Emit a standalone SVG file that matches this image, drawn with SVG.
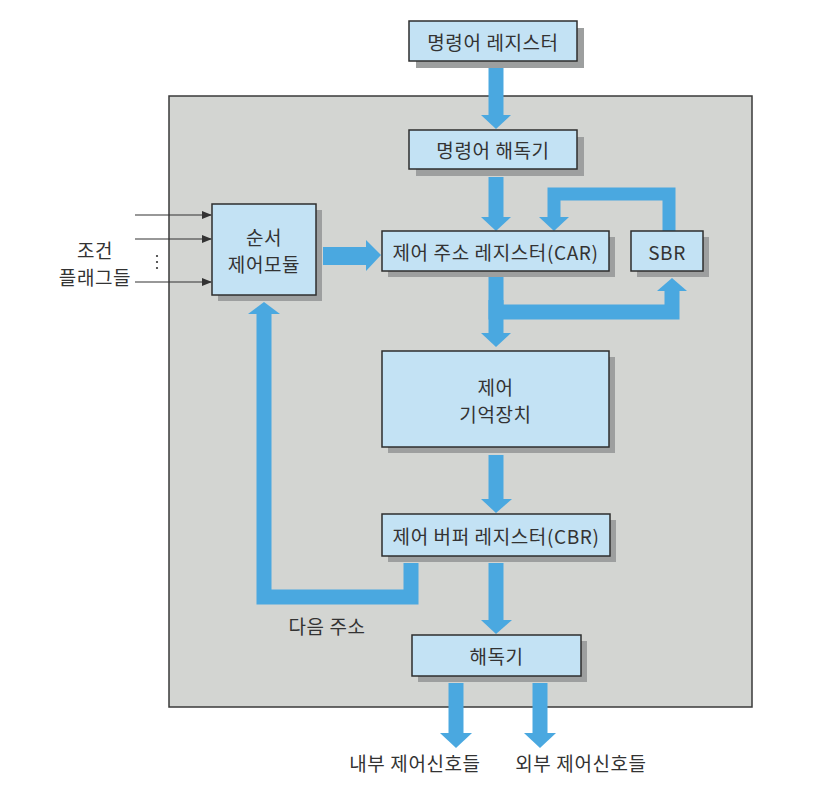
<svg xmlns="http://www.w3.org/2000/svg" width="829" height="799" viewBox="0 0 829 799">
<defs>
<style>
.panel{fill:#d3d5d2;stroke:#3a3a3a;stroke-width:1.5}
.box{fill:#c3e2f4;stroke:#2e2e2e;stroke-width:1.5}
.shadow{fill:#9d9f9f}
.t{font-family:"Noto Sans CJK KR","Noto Sans",sans-serif;font-size:19px;letter-spacing:0.6px;fill:#333;text-anchor:middle;dominant-baseline:central}
.shaft{fill:none;stroke:#4aa8e0;stroke-width:15;stroke-linejoin:miter}
.head{fill:#4aa8e0}
.thin{stroke:#333;stroke-width:1.2;fill:none}
</style>
<marker id="ah" markerWidth="10" markerHeight="8" refX="9" refY="4" orient="auto" markerUnits="userSpaceOnUse">
<path d="M0,0 L10,4 L0,8 Z" fill="#333"/>
</marker>
</defs>
<rect width="829" height="799" fill="#ffffff"/>
<rect id="panel" class="panel" x="169" y="96" width="583" height="611"/>

<g id="connectors">
<path class="shaft" d="M496,68 V116"/>
<polygon class="head" points="481,115 511,115 496,129"/>
<path class="shaft" d="M496,177 V218"/>
<polygon class="head" points="481,217 511,217 496,231"/>
<path class="shaft" style="stroke-width:13" d="M669,231 V194 H554 V218"/>
<polygon class="head" points="539,217 569,217 554,231"/>
<path class="shaft" d="M496,277 V312 H672 V290"/>
<polygon class="head" points="657,291 687,291 672,278"/>
<path class="shaft" d="M496,300 V334"/>
<polygon class="head" points="481,333 511,333 496,347"/>
<path class="shaft" d="M496,455 V500"/>
<polygon class="head" points="481,499 512,499 496,513"/>
<path class="shaft" d="M496,563 V621"/>
<polygon class="head" points="481,620 512,620 496,634"/>
<path class="shaft" d="M456,683 V734"/>
<polygon class="head" points="440,733 472,733 456,748"/>
<path class="shaft" d="M540,683 V734"/>
<polygon class="head" points="524,733 556,733 540,748"/>
<path class="shaft" d="M411,563 V597 H264 V313"/>
<polygon class="head" points="248,314 280,314 264,302"/>
<path class="shaft" style="stroke-width:18" d="M323,256 H367"/>
<polygon class="head" points="366,240 366,271 381,255"/>
<line class="thin" x1="135" y1="215" x2="211" y2="215" marker-end="url(#ah)"/>
<line class="thin" x1="135" y1="239" x2="211" y2="239" marker-end="url(#ah)"/>
<line class="thin" x1="135" y1="282" x2="211" y2="282" marker-end="url(#ah)"/>
<g fill="#333"><circle cx="157" cy="256" r="1.1"/><circle cx="157" cy="262" r="1.1"/><circle cx="157" cy="268" r="1.1"/></g>
</g>

<g id="ir">
<rect class="shadow" x="416" y="28" width="168" height="40"/>
<rect class="box" x="409" y="21" width="168" height="40"/>
<text class="t" x="493" y="41">명령어 레지스터</text>
</g>
<g id="idec">
<rect class="shadow" x="416" y="137" width="168" height="39"/>
<rect class="box" x="409" y="130" width="168" height="39"/>
<text class="t" x="493" y="149.5">명령어 해독기</text>
</g>
<g id="seq">
<rect class="shadow" x="218" y="210" width="104" height="91"/>
<rect class="box" x="212" y="204" width="104" height="91"/>
<text class="t" x="264" y="236">순서</text>
<text class="t" x="264" y="263">제어모듈</text>
</g>
<g id="car">
<rect class="shadow" x="388" y="237" width="227" height="40"/>
<rect class="box" x="382" y="231" width="227" height="40"/>
<text class="t" x="495.5" y="251">제어 주소 레지스터(CAR)</text>
</g>
<g id="sbr">
<rect class="shadow" x="637" y="237" width="72" height="40"/>
<rect class="box" x="631" y="231" width="72" height="40"/>
<text class="t" x="667" y="251">SBR</text>
</g>
<g id="cm">
<rect class="shadow" x="388" y="357" width="227" height="96"/>
<rect class="box" x="382" y="351" width="227" height="96"/>
<text class="t" x="495.5" y="386">제어</text>
<text class="t" x="495.5" y="413">기억장치</text>
</g>
<g id="cbr">
<rect class="shadow" x="388" y="520" width="228" height="42"/>
<rect class="box" x="382" y="514" width="228" height="42"/>
<text class="t" x="496" y="535">제어 버퍼 레지스터(CBR)</text>
</g>
<g id="dec">
<rect class="shadow" x="418" y="641" width="169" height="41"/>
<rect class="box" x="412" y="635" width="169" height="41"/>
<text class="t" x="496.5" y="655.5">해독기</text>
</g>
<g id="labels">
<text class="t" x="327" y="625">다음 주소</text>
<text class="t" x="415" y="762">내부 제어신호들</text>
<text class="t" x="581" y="762">외부 제어신호들</text>
<text class="t" x="95" y="249">조건</text>
<text class="t" x="95" y="276">플래그들</text>
</g>
</svg>
